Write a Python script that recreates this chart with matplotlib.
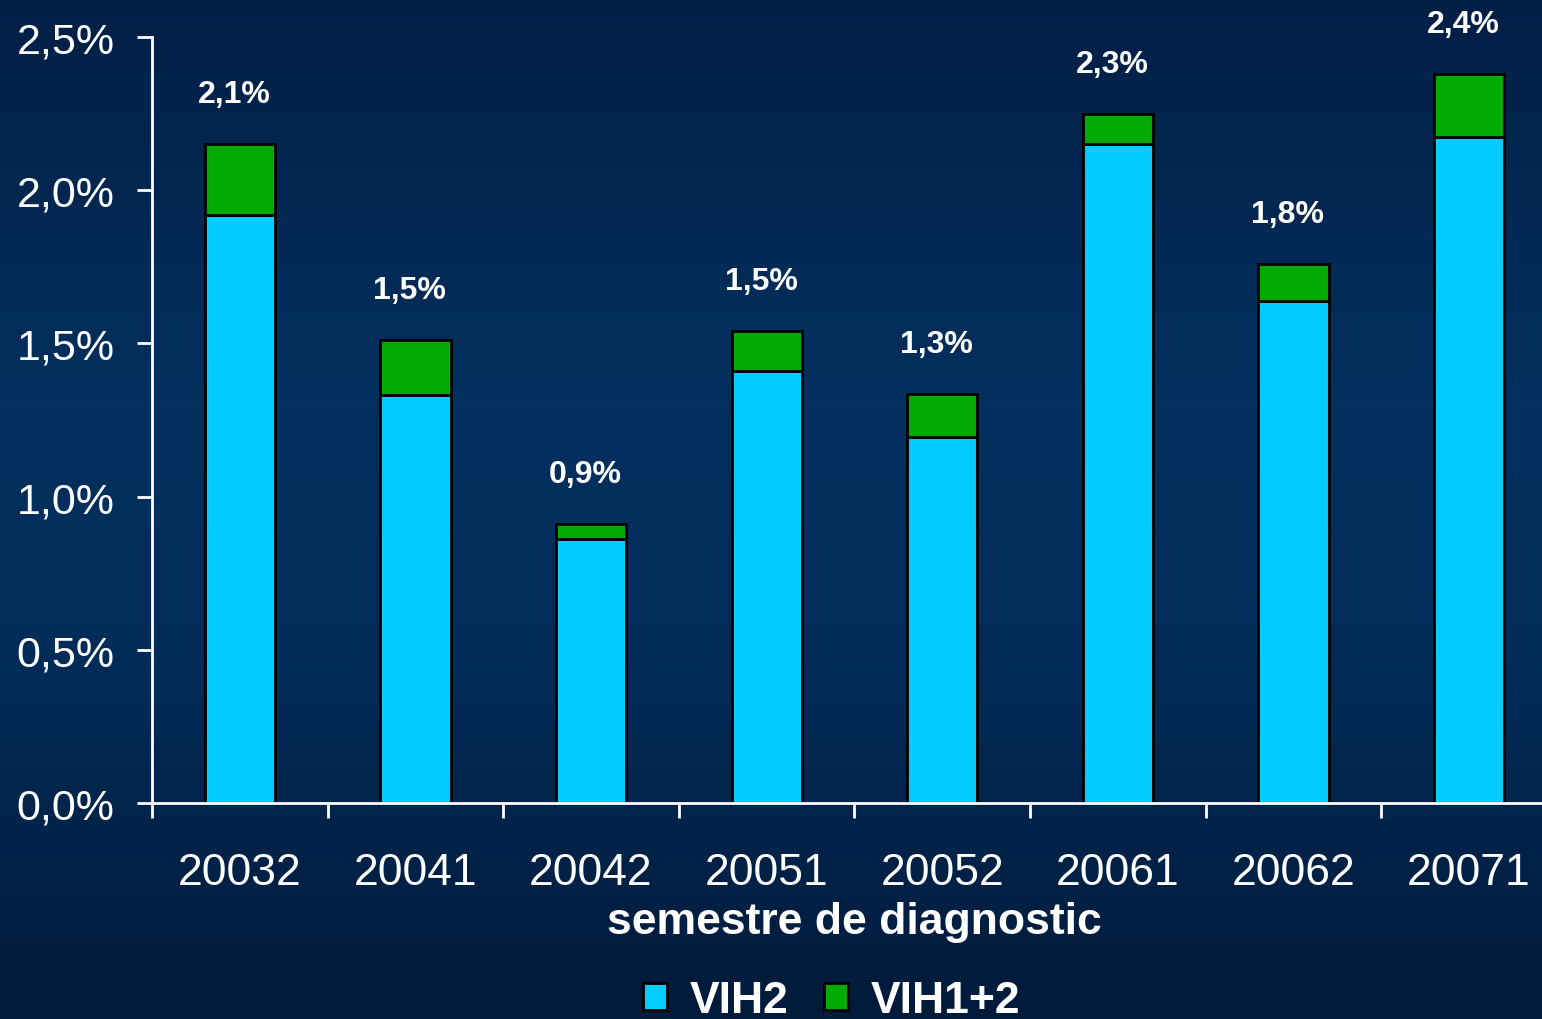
#!/usr/bin/env python3

import numpy as np
import matplotlib
matplotlib.use("Agg")
import matplotlib.pyplot as plt
from matplotlib.colors import LinearSegmentedColormap
from matplotlib.patches import Patch

semestres = ["20032", "20041", "20042", "20051", "20052", "20061", "20062", "20071"]
vih2 = [1.92, 1.33, 0.86, 1.41, 1.195, 2.15, 1.64, 2.175]
vih12 = [0.23, 0.18, 0.05, 0.13, 0.14, 0.10, 0.12, 0.205]
totaux = ["2,1%", "1,5%", "0,9%", "1,5%", "1,3%", "2,3%", "1,8%", "2,4%"]
yticks = [0, 0.5, 1.0, 1.5, 2.0, 2.5]
ytick_labels = ["0,0%", "0,5%", "1,0%", "1,5%", "2,0%", "2,5%"]

plt.rcParams['font.family'] = ['Liberation Sans', 'DejaVu Sans']

fig = plt.figure(figsize=(15.42, 10.2), dpi=100)

# gradient background
bg = fig.add_axes([0, 0, 1, 1])
bg.set_axis_off()
cmap = LinearSegmentedColormap.from_list(
    "bg", [(0.0, "#001a3a"), (0.35, "#022c58"), (0.6, "#03305f"), (1.0, "#011f45")])
grad = np.linspace(0, 1, 256).reshape(-1, 1)
bg.imshow(grad, aspect="auto", cmap=cmap, origin="lower", extent=[0, 1, 0, 1])
bg.set_zorder(-10)

ax = fig.add_axes([0.0986, 0.2118, 0.911, 0.7509])
ax.patch.set_alpha(0)

x = np.arange(len(semestres))
ax.bar(x, vih2, width=0.4, color="#00ccff", edgecolor="black", linewidth=2)
ax.bar(x, vih12, width=0.4, bottom=vih2, color="#00aa00", edgecolor="black", linewidth=2)

for xi, b, g, t in zip(x, vih2, vih12, totaux):
    ax.annotate(t, (xi, b + g), xytext=(-4, 36), textcoords="offset points",
                ha="center", va="center", color="white", fontsize=23, fontweight="bold")

ax.set_xlim(-0.5, 7.5)
ax.set_ylim(0, 2.5)
ax.set_yticks(yticks)
ax.set_yticklabels(ytick_labels)
ax.set_xticks(x)
ax.set_xticklabels(semestres)
ax.set_xticks(np.arange(-0.5, 8, 1), minor=True)

for s in ["top", "right"]:
    ax.spines[s].set_visible(False)
for s in ["left", "bottom"]:
    ax.spines[s].set_color("white")
    ax.spines[s].set_linewidth(2)

ax.tick_params(axis="y", colors="white", labelsize=31, width=2, length=11, pad=16)
ax.tick_params(axis="x", which="major", length=0, labelsize=32, colors="white", pad=35)
ax.tick_params(axis="x", which="minor", length=11, width=2, color="white")

ax.set_xlabel("semestre de diagnostic", color="white", fontsize=32, fontweight="bold",
              labelpad=6)

handles = [Patch(facecolor="#00ccff", edgecolor="black", linewidth=2, label="VIH2"),
           Patch(facecolor="#00aa00", edgecolor="black", linewidth=2, label="VIH1+2")]
leg = fig.legend(handles=handles, loc="center", bbox_to_anchor=(0.539, 0.018), ncol=2,
                 frameon=False, fontsize=32, handlelength=0.55, handleheight=0.55,
                 handletextpad=0.5, columnspacing=0.8)
for t in leg.get_texts():
    t.set_color("white")
    t.set_fontweight("bold")

fig.savefig("out.png", dpi=100)
